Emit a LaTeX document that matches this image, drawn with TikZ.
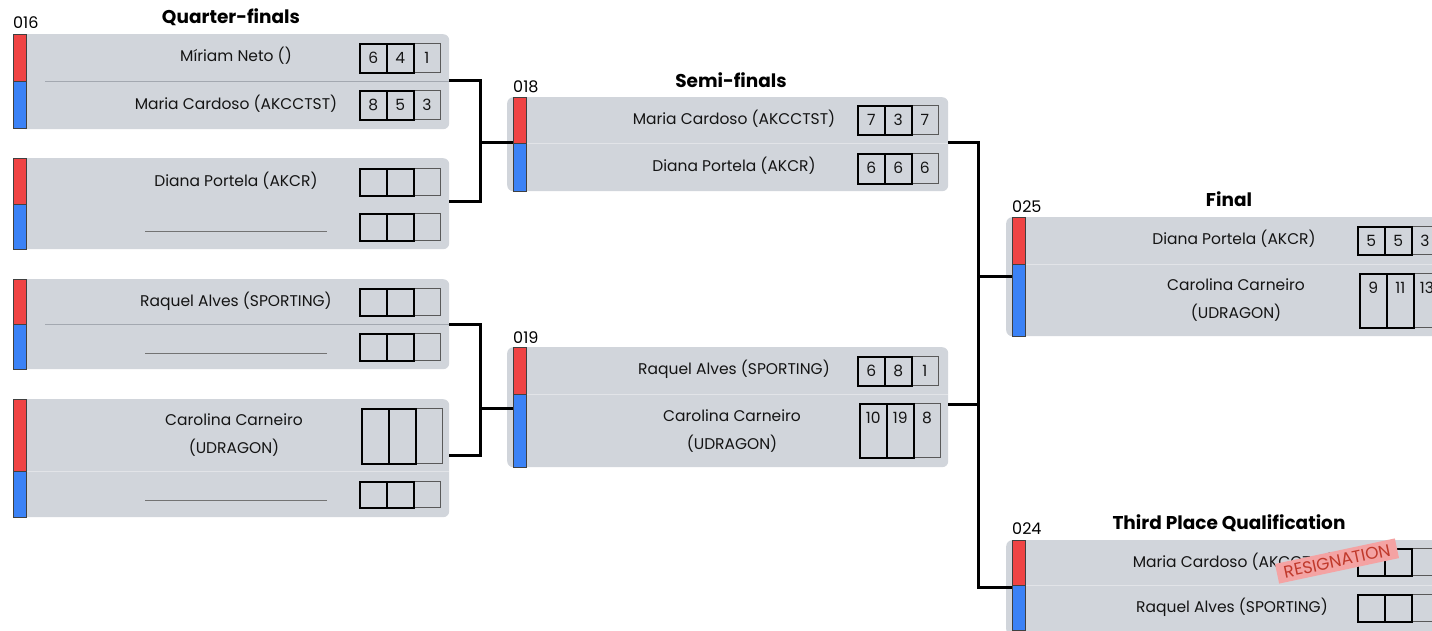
\documentclass[tikz,border=0pt]{standalone}
\usepackage{fontspec}
\setmainfont{Poppins}
\definecolor{boxgray}{HTML}{D1D5DB}
\definecolor{redbar}{HTML}{EF4444}
\definecolor{bluebar}{HTML}{3B82F6}
\definecolor{divline}{HTML}{A3A8B0}
\definecolor{divlight}{HTML}{E2E4E8}
\definecolor{ink}{HTML}{141414}
\definecolor{stamppink}{HTML}{F4A3A3}
\definecolor{stampred}{HTML}{C0392B}
\tikzset{
  bg/.style={fill=boxgray, rounded corners=6pt, inner sep=0pt, anchor=north west},
  redb/.style={fill=redbar, draw=black!75, line width=0.7pt, minimum width=13pt, inner sep=0pt, anchor=north west},
  blueb/.style={fill=bluebar, draw=black!75, line width=0.7pt, minimum width=13pt, inner sep=0pt, anchor=north west},
  sboxa/.style={draw=black, line width=1.6pt, minimum width=27pt, inner sep=0pt, anchor=north west},
  sboxc/.style={draw=black!65, line width=0.8pt, minimum width=27pt, inner sep=0pt, anchor=north west},
  digit/.style={text=ink, font=\fontsize{15.5}{17}\selectfont, inner sep=0pt},
  pname/.style={text=ink, font=\fontsize{15.5}{28}\selectfont, align=center, inner sep=0pt},
  blank/.style={text=black!55, inner sep=0pt},
  title/.style={text=black, font=\fontsize{18.5}{20}\selectfont\bfseries, inner sep=0pt},
  mlabel/.style={text=black, font=\fontsize{16}{18}\selectfont, inner sep=0pt, anchor=west},
  conn/.style={draw=black, line width=3pt},
  stamp/.style={fill=stamppink, text=stampred, font=\fontsize{17}{19}\selectfont, inner xsep=7pt, inner ysep=4pt},
}
\newcommand\scorerow[7]{%
  \node[sboxc, minimum height=#4] (#1c) at (#2+54,#3) {};
  \node[sboxa, minimum height=#4] (#1a) at (#2,#3) {};
  \node[sboxa, minimum height=#4] (#1b) at (#2+27,#3) {};
  \node[digit] (#1da) at ([yshift=-14.5pt]#1a.north) {#5};
  \node[digit] (#1db) at ([yshift=-14.5pt]#1b.north) {#6};
  \node[digit] (#1dc) at ([yshift=-14.5pt]#1c.north) {#7};
}
\begin{document}
\begin{tikzpicture}[x=1pt,y=-1pt]
\useasboundingbox (0,0) rectangle (1432,631);
\clip (0,0) rectangle (1432,631);
\fill[white] (0,0) rectangle (1432,631);

% ---------- titles ----------
\node[title] (tqf) at (231,17) {Quarter-finals};
\node[title] (tsf) at (731,80) {Semi-finals};
\node[title] (tf) at (1229,199) {Final};
\node[title] (ttp) at (1229,523) {Third Place Qualification};

% ---------- QF1 (016) ----------
\node[mlabel] (l016) at (13,23) {016};
\node[bg, minimum width=429pt, minimum height=95pt] (qf1) at (20,34) {};
\draw[divline, line width=0.8pt] (45,81) -- (449,81);
\node[redb, minimum height=47pt] (qf1r) at (13,34) {};
\node[blueb, minimum height=47pt] (qf1b) at (13,81) {};
\node[pname] (qf1n1) at (236,56) {Míriam Neto ()};
\node[pname] (qf1n2) at (236,104) {Maria Cardoso (AKCCTST)};
\scorerow{qf1s1}{359}{43}{29pt}{6}{4}{1}
\scorerow{qf1s2}{359}{90}{29pt}{8}{5}{3}

% ---------- QF2 ----------
\node[bg, minimum width=429pt, minimum height=91pt] (qf2) at (20,158) {};
\node[redb, minimum height=46pt] (qf2r) at (13,158) {};
\node[blueb, minimum height=45pt] (qf2b) at (13,204) {};
\node[pname] (qf2n1) at (236,181) {Diana Portela (AKCR)};
\node[blank] (qf2n2) at (236,232) {\rule{182pt}{1pt}};
\scorerow{qf2s1}{359}{168}{27pt}{}{}{}
\scorerow{qf2s2}{359}{213}{27pt}{}{}{}

% ---------- QF3 ----------
\node[bg, minimum width=429pt, minimum height=90pt] (qf3) at (20,279) {};
\draw[divline, line width=0.8pt] (45,324) -- (449,324);
\node[redb, minimum height=45pt] (qf3r) at (13,279) {};
\node[blueb, minimum height=45pt] (qf3b) at (13,324) {};
\node[pname] (qf3n1) at (236,301) {Raquel Alves (SPORTING)};
\node[blank] (qf3n2) at (236,353) {\rule{182pt}{1pt}};
\scorerow{qf3s1}{359}{288}{27pt}{}{}{}
\scorerow{qf3s2}{359}{333}{27pt}{}{}{}

% ---------- QF4 ----------
\node[bg, minimum width=429pt, minimum height=118pt] (qf4) at (20,399) {};
\draw[divlight, line width=0.8pt] (27,471) -- (449,471);
\node[redb, minimum height=72pt] (qf4r) at (13,399) {};
\node[blueb, minimum height=46pt] (qf4b) at (13,471) {};
\node[pname] (qf4n1) at (234,435) {Carolina Carneiro\\(UDRAGON)};
\node[blank] (qf4n2) at (236,500) {\rule{182pt}{1pt}};
\scorerow{qf4s1}{361}{408}{55pt}{}{}{}
\scorerow{qf4s2}{359}{481}{26pt}{}{}{}

% ---------- SF1 (018) ----------
\node[mlabel] (l018) at (513,87) {018};
\node[bg, minimum width=441pt, minimum height=94pt] (sf1) at (507,97) {};
\draw[divlight, line width=0.8pt] (526,143) -- (948,143);
\node[redb, minimum height=46pt] (sf1r) at (513,97) {};
\node[blueb, minimum height=48pt] (sf1b) at (513,143) {};
\node[pname] (sf1n1) at (734,119) {Maria Cardoso (AKCCTST)};
\node[pname] (sf1n2) at (734,166) {Diana Portela (AKCR)};
\scorerow{sf1s1}{857}{105}{29pt}{7}{3}{7}
\scorerow{sf1s2}{857}{153}{30pt}{6}{6}{6}

% ---------- SF2 (019) ----------
\node[mlabel] (l019) at (513,338) {019};
\node[bg, minimum width=441pt, minimum height=120pt] (sf2) at (507,347) {};
\draw[divlight, line width=0.8pt] (526,394) -- (948,394);
\node[redb, minimum height=47pt] (sf2r) at (513,347) {};
\node[blueb, minimum height=73pt] (sf2b) at (513,394) {};
\node[pname] (sf2n1) at (734,369) {Raquel Alves (SPORTING)};
\node[pname] (sf2n2) at (732,431) {Carolina Carneiro\\(UDRAGON)};
\scorerow{sf2s1}{857}{356}{29pt}{6}{8}{1}
\scorerow{sf2s2}{859}{403}{54pt}{10}{19}{8}

% ---------- Final (025) ----------
\node[mlabel] (l025) at (1012,207) {025};
\node[bg, minimum width=450pt, minimum height=119pt] (fin) at (1006,217) {};
\draw[divlight, line width=0.8pt] (1025,264) -- (1432,264);
\node[redb, minimum height=47pt] (finr) at (1012,217) {};
\node[blueb, minimum height=72pt] (finb) at (1012,264) {};
\node[pname] (finn1) at (1234,239) {Diana Portela (AKCR)};
\node[pname] (finn2) at (1236,300) {Carolina Carneiro\\(UDRAGON)};
\scorerow{fins1}{1357}{226}{28pt}{5}{5}{3}
\scorerow{fins2}{1359}{273}{54pt}{9}{11}{13}

% ---------- Third place (024) ----------
\node[mlabel] (l024) at (1012,529) {024};
\node[bg, minimum width=450pt, minimum height=95pt] (tp) at (1006,540) {};
\draw[divlight, line width=0.8pt] (1025,585) -- (1432,585);
\node[redb, minimum height=45pt] (tpr) at (1012,540) {};
\node[blueb, minimum height=45pt] (tpb) at (1012,585) {};
\node[pname] (tpn1) at (1234,562) {Maria Cardoso (AKCCTST)};
\node[pname] (tpn2) at (1232,607) {Raquel Alves (SPORTING)};
\scorerow{tps1}{1357}{548}{27pt}{}{}{}
\scorerow{tps2}{1357}{594}{27pt}{}{}{}
\node[stamp, rotate=12] (resign) at (1337,561) {RESIGNATION};

% ---------- connectors ----------
\coordinate (c1) at (449,81);
\coordinate (c2) at (449,202);
\coordinate (j1) at (480,143);
\coordinate (c3) at (449,324);
\coordinate (c4) at (449,455);
\coordinate (j2) at (480,408);
\coordinate (cs1) at (948,143);
\coordinate (cs2) at (948,404);
\coordinate (js2) at (978,404);
\coordinate (jf) at (978,276);
\coordinate (jt) at (978,587);

\draw[conn] (c1) -| (j1) |- (c2);
\draw[conn] (j1) -- (sf1r.west |- j1);
\draw[conn] (c3) -| (j2) |- (c4);
\draw[conn] (j2) -- (sf2r.west |- j2);
\draw[conn] (cs1) -| (jt) -- (tpr.west |- jt);
\draw[conn] (cs2) -- (js2);
\draw[conn] (jf) -- (finr.west |- jf);
\end{tikzpicture}
\end{document}
